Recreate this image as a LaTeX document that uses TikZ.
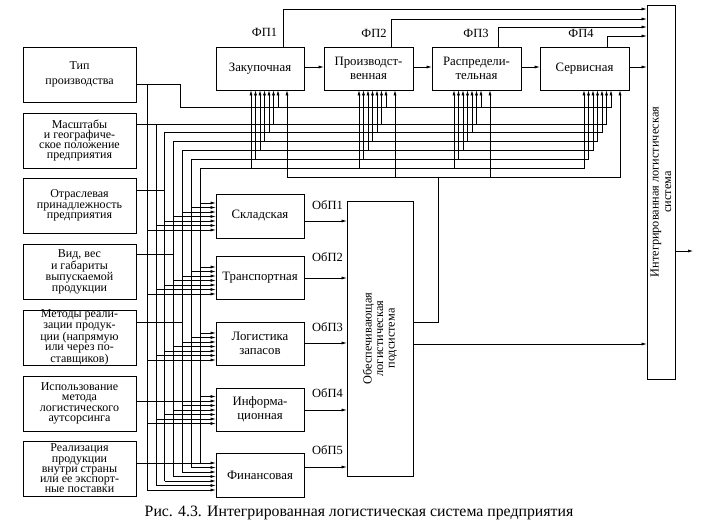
\documentclass[tikz,border=0pt]{standalone}
\usepackage{fontspec}
\setmainfont{Liberation Serif}
\usepackage{graphicx}
\usetikzlibrary{arrows.meta}
\begin{document}
\begin{tikzpicture}[x=1pt,y=-1pt,line width=0.6pt,
  box/.style={draw, line width=0.7pt, inner sep=0pt, align=center, font=\fontsize{12.8}{13.5}\selectfont},
  lbox/.style={box, minimum width=113pt, minimum height=55pt, font=\fontsize{12}{10.3}\selectfont},
  fbox/.style={box, minimum height=43pt},
  sbox/.style={box, minimum width=88pt},
  arr/.style={-{Latex[length=5pt,width=3pt]}},
  arrb/.style={{Latex[length=5pt,width=3pt]}-{Latex[length=5pt,width=3pt]}},
  lab/.style={font=\fontsize{12.5}{13}\selectfont, inner sep=0pt},
]
\useasboundingbox (0,0) rectangle (706,529);
% left boxes
\node[lbox] (L1) at (79.5,74.5) {Тип\\[4pt]производства};
\node[lbox] (L2) at (79.5,140.5) {Масштабы\\и географиче-\\ское положение\\предприятия};
\node[lbox] (L3) at (79.5,205.5) {Отраслевая\\принадлежность\\предприятия};
\node[lbox] (L4) at (79.5,271.5) {Вид, вес\\и габариты\\выпускаемой\\продукции};
\node[lbox] (L5) at (79.5,337.5) {Методы реали-\\зации продук-\\ции (напрямую\\или через по-\\ставщиков)};
\node[lbox] (L6) at (79.5,403.5) {Использование\\метода\\логистического\\аутсорсинга};
\node[lbox] (L7) at (79.5,468.5) {Реализация\\продукции\\внутри страны\\или ее экспорт-\\ные поставки};
% top boxes
\node[fbox, minimum width=88pt] (F1) at (260,68.5) {Закупочная};
\node[fbox, minimum width=89pt] (F2) at (368.5,68.5) {Производст-\\венная};
\node[fbox, minimum width=89pt] (F3) at (476.5,68.5) {Распредели-\\тельная};
\node[fbox, minimum width=89pt] (F4) at (584.5,68.5) {Сервисная};
% lower boxes
\node[sbox, minimum height=44pt] (S1) at (260,216) {Складская};
\node[sbox, minimum height=43pt] (S2) at (260,277.5) {Транспортная};
\node[sbox, minimum height=43pt] (S3) at (260,343.5) {Логистика\\запасов};
\node[sbox, minimum height=43pt] (S4) at (260,409.5) {Информа-\\ционная};
\node[sbox, minimum height=44pt] (S5) at (260,475) {Финансовая};
% supporting and integrated
\node[box, minimum width=66pt, minimum height=275pt] (OB) at (380,338.5)
  {\rotatebox{90}{\parbox{120pt}{\centering\fontsize{12.3}{11.5}\selectfont Обеспечивающая\\логистическая\\подсистема}}};
\node[box, minimum width=28pt, minimum height=374pt] (IS) at (661,192)
  {\rotatebox{90}{\parbox{220pt}{\centering\fontsize{12.3}{12.5}\selectfont Интегрированная логистическая\\система}}};
% labels
\node[lab] (fp1) at (264.5,32) {ФП1};
\node[lab] (fp2) at (374,33) {ФП2};
\node[lab] (fp3) at (476,33) {ФП3};
\node[lab] (fp4) at (581,33) {ФП4};
\foreach \n/\y in {1/205,2/257,3/327,4/393,5/450}
  \node[lab] (ob\n) at (327.5,\y) {ОбП\n};
\node[font=\fontsize{15.8}{17}\selectfont, inner sep=0pt] (cap) at (359,513) {Рис. 4.3. Интегрированная логистическая система предприятия};
% chain of functional subsystems
\draw[arr] (F1.east |- 0,67) -- (F2.west |- 0,67);
\draw[arr] (F2.east |- 0,67) -- (F3.west |- 0,67);
\draw[arr] (F3.east |- 0,67) -- (F4.west |- 0,67);
\draw[arr] (F4.east |- 0,67) -- (IS.west |- 0,67);
% FP outputs
\draw[arr] (F1.north -| 283,0) |- (IS.west |- 0,9);
\draw[arr] (F2.north -| 391,0) |- (IS.west |- 0,19);
\draw[arr] (F3.north -| 498,0) |- (IS.west |- 0,27);
\draw[arr] (F4.north -| 607,0) |- (IS.west |- 0,36);
% integrated output
\coordinate (out) at (693,251);
\draw[arr] (IS.east |- out) -- (out);
% left box outputs into the bus
\draw[arr] (L1.east |- 0,84) -- (180,84) -- (180,107) -| (F4.south -| 611,0);
\draw[arr] (L2.east |- 0,124) -| (F4.south -| 606.5,0);
\draw (147,84) -- (147,490);
\draw (155.8,124) -- (155.8,485.5);
\foreach \k/\o/\L in {3/190/L3,4/254/L4,5/322/L5,6/401/L6,7/463/L7}{
  \pgfmathsetmacro\xk{147+8.833*(\k-1)}
  \draw (\L.east |- 0,\o) -- (\xk,\o);
}
\foreach \k/\T in {3/132,4/141,5/150,6/159,7/168}{
  \pgfmathsetmacro\xk{147+8.833*(\k-1)}
  \pgfmathsetmacro\yb{463+4.5*(7-\k)}
  \pgfmathsetmacro\xa{584+4.5*(7-\k)}
  \draw[arr] (\xk,\yb) -- (\xk,\T) -| (F4.south -| \xa,0);
}
% top arrows into F1..F3
\foreach \b/\ax in {F1/251,F2/359,F3/454}{
  \foreach \k/\T in {1/107,2/124,3/132,4/141,5/150,6/159,7/168}{
    \pgfmathsetmacro\xx{\ax+4.5*(7-\k)}
    \draw[arr] (\xx,\T) -- (\b.south -| \xx,0);
  }
}
% lower arrows into S1..S5
\foreach \s/\f in {S1/203,S2/267,S3/333,S4/396.5,S5/463}{
  \foreach \k in {1,...,7}{
    \pgfmathsetmacro\xk{147+8.833*(\k-1)}
    \pgfmathsetmacro\yy{\f+4.5*(7-\k)}
    \draw[arr] (\xk,\yy) -- (\s.west |- 0,\yy);
  }
}
% supporting subsystem outputs
\foreach \s/\y in {S1/221,S2/278,S3/343,S4/410,S5/467}
  \draw[arr] (\s.east |- 0,\y) -- (OB.west |- 0,\y);
\coordinate (j8) at (438,177);
\draw (OB.east |- 0,322) -| (j8);
\draw[arrb] (F1.south -| 287,0) |- (620,177) -- (F4.south -| 620,0);
\draw[arr] (395,177) -- (F2.south -| 395,0);
\draw[arr] (490,177) -- (F3.south -| 490,0);
\draw[arr] (OB.east |- 0,344) -- (IS.west |- 0,344);
\end{tikzpicture}
\end{document}
